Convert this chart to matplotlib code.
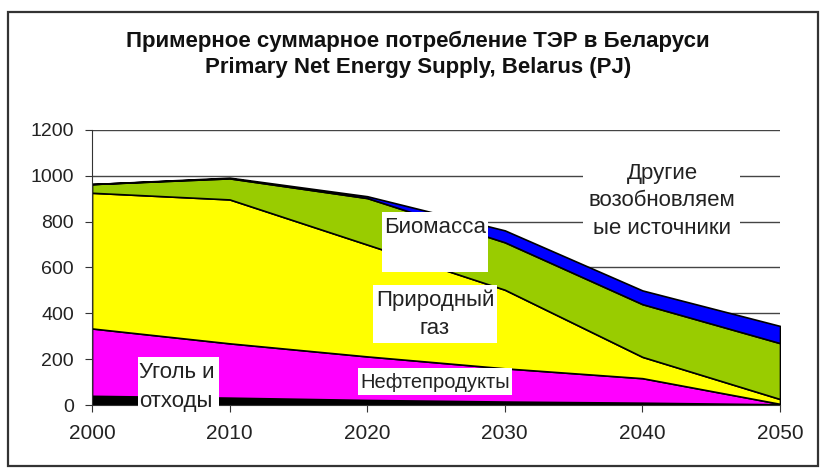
import matplotlib
matplotlib.use("Agg")
import matplotlib.pyplot as plt
from matplotlib.patches import Rectangle

# ---- data ----
years = [2000, 2010, 2020, 2030, 2040, 2050]
coal = [40, 32, 22, 15, 10, 3]           # Уголь и отходы
oil = [294, 237, 190, 145, 107, 2]       # Нефтепродукты
gas = [592, 628, 488, 343, 93, 21]       # Природный газ
biomass = [38, 92, 203, 207, 230, 244]   # Биомасса
other = [0, 3, 8, 52, 60, 75]            # Другие возобновляемые источники
series_colors = ["#000000", "#FF00FF", "#FFFF00", "#99CC00", "#0000FF"]
yticks = [0, 200, 400, 600, 800, 1000, 1200]
xticks = [2000, 2010, 2020, 2030, 2040, 2050]

title1 = "Примерное суммарное потребление ТЭР в Беларуси"
title2 = "Primary Net Energy Supply, Belarus (PJ)"

plt.rcParams['font.family'] = ['Liberation Sans', 'DejaVu Sans']

W, H = 827, 473
fig = plt.figure(figsize=(W / 100, H / 100), dpi=100)
fig.patch.set_facecolor("white")

ax_l, ax_r, ax_t, ax_b = 92, 780, 130, 405
ax = fig.add_axes([ax_l / W, 1 - ax_b / H, (ax_r - ax_l) / W, (ax_b - ax_t) / H])

ax.stackplot(years, coal, oil, gas, biomass, other, colors=series_colors,
             edgecolor="black", linewidth=1.2, zorder=2)

ax.set_xlim(2000, 2050)
ax.set_ylim(0, 1200)
ax.set_xticks(xticks)
ax.set_yticks(yticks)
ax.yaxis.grid(True, color="#444444", linewidth=1.0, zorder=0)
ax.set_axisbelow(True)
for s in ["top", "right"]:
    ax.spines[s].set_visible(False)
ax.spines["left"].set_color("#333333")
ax.spines["bottom"].set_color("#333333")
ax.tick_params(axis="both", direction="out", length=5, color="#333333",
               labelcolor="#222222")
ax.tick_params(axis="x", pad=9, labelsize=15)
ax.tick_params(axis="y", pad=8, labelsize=14)


def px2data(x, y):
    return 2000 + (x - ax_l) / (ax_r - ax_l) * 50, (ax_b - y) / (ax_b - ax_t) * 1200


def white_box(x0, y0, x1, y1):
    dx0, dy0 = px2data(x0, y1)
    dx1, dy1 = px2data(x1, y0)
    ax.add_patch(Rectangle((dx0, dy0), dx1 - dx0, dy1 - dy0, facecolor="white",
                           edgecolor="none", zorder=5, clip_on=False))


def label(x, y, s, ha="center", size=16):
    dx, dy = px2data(x, y)
    ax.text(dx, dy, s, ha=ha, va="center", fontsize=size, color="#222222",
            zorder=6, clip_on=False)


white_box(138, 357, 219, 412)
label(139, 372, "Уголь и", ha="left")
label(139, 401, "отходы", ha="left")

white_box(358, 368, 512, 395)
label(435, 382, "Нефтепродукты", size=14.5)

white_box(373, 285, 497, 343)
label(435, 300, "Природный")
label(435, 328, "газ")

white_box(382, 212, 488, 272)
label(435, 227, "Биомасса")

white_box(583, 158, 740, 243)
label(662, 174, "Другие")
label(662, 201, "возобновляем")
label(662, 228, "ые источники")

fig.text(418 / W, 1 - 46.5 / H, title1, ha="center", va="baseline",
         fontsize=16, fontweight="bold", color="#111111")
fig.text(418 / W, 1 - 73.5 / H, title2, ha="center", va="baseline",
         fontsize=16, fontweight="bold", color="#111111")

fig.patches.append(Rectangle((8 / W, 1 - 466 / H), (818 - 8) / W, (466 - 12) / H,
                             transform=fig.transFigure, fill=False,
                             edgecolor="#333333", linewidth=1.6))

fig.savefig("out.png", dpi=100)
